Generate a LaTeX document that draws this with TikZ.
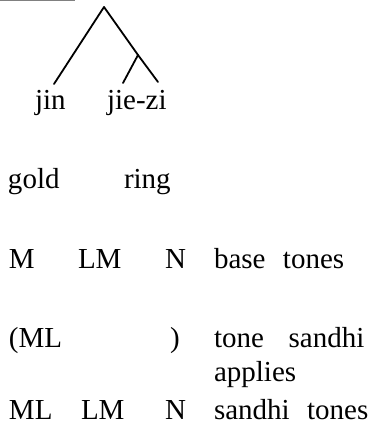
\documentclass[tikz,border=0pt]{standalone}
\usepackage{fontspec}
\setmainfont{Liberation Serif}
\begin{document}
\begin{tikzpicture}[x=1pt,y=-1pt,
  txt/.style={anchor=base west,inner sep=0pt,outer sep=0pt,font=\fontsize{29}{34}\selectfont},
  branch/.style={line width=1.8pt,line cap=round},
  rule/.style={line width=0.8pt,gray}]
\useasboundingbox (0,0) rectangle (374,430);
% top rule
\coordinate (r1) at (0,0.6);
\coordinate (r2) at (75,0.6);
\draw[rule] (r1) -- (r2);
% tree
\coordinate (top) at (104,7);
\coordinate (mid) at (138,55);
\coordinate (l1) at (54,84);
\coordinate (l2) at (123,83);
\coordinate (l3) at (158,82);
\draw[branch] (top) -- (l1);
\draw[branch] (top) -- (mid) -- (l3);
\draw[branch] (mid) -- (l2);
% words
\node[txt] (jin) at (35,110) {jin};
\node[txt] (jiezi) at (107,110) {jie-zi};
\node[txt] (gold) at (8,189) {gold};
\node[txt] (ring) at (124,189) {ring};
% base tones row
\node[txt] (b1) at (9,268) {M};
\node[txt] (b2) at (78,268) {LM};
\node[txt] (b3) at (165,268) {N};
\node[txt] (b4) at (214,268) {base\hspace{0.6em}tones};
% sandhi row
\node[txt] (s1) at (9,347) {(ML};
\node[txt] (s2) at (170,347) {)};
\node[txt] (s3) at (214,347) {tone\hspace{0.85em}sandhi};
\node[txt] (s4) at (214,381) {applies};
% result row
\node[txt] (t1) at (9,419) {ML};
\node[txt] (t2) at (81,419) {LM};
\node[txt] (t3) at (165,419) {N};
\node[txt] (t4) at (214,419) {sandhi\hspace{0.6em}tones};
\end{tikzpicture}
\end{document}
